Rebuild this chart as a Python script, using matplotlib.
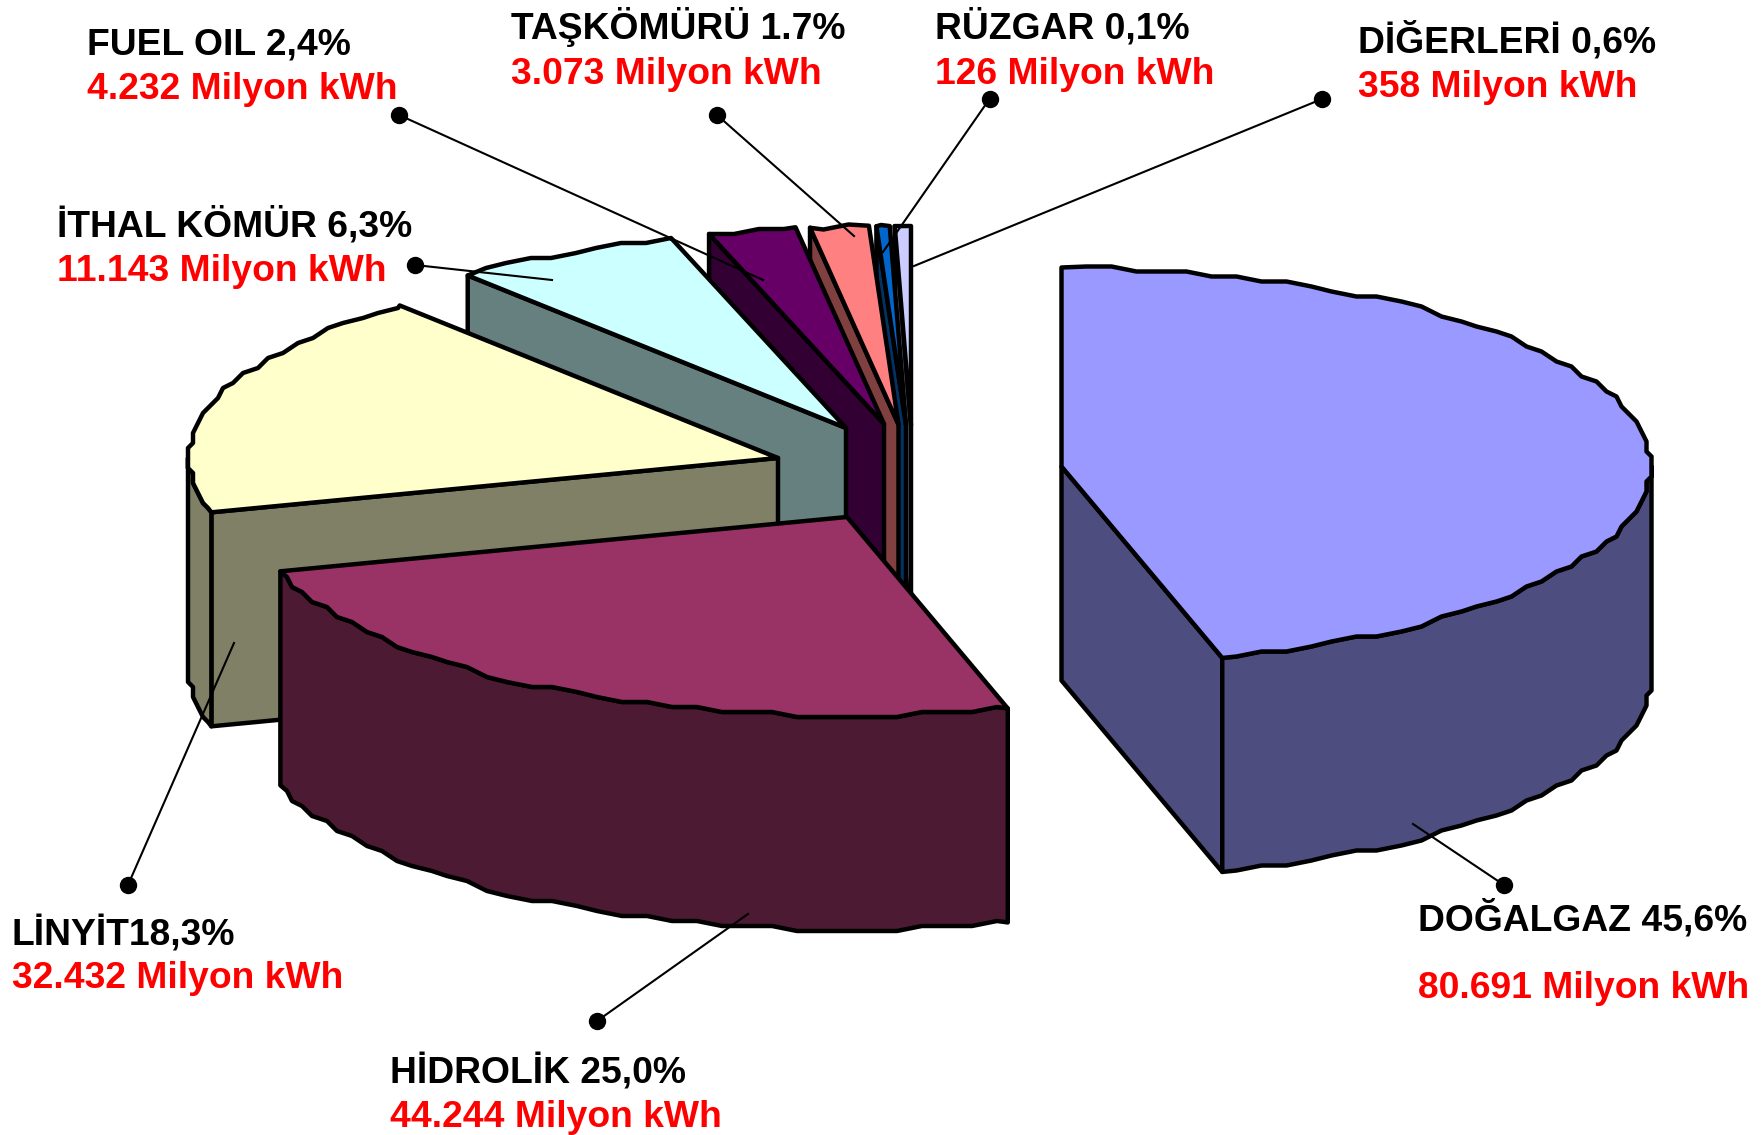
import numpy as np
import matplotlib
matplotlib.use('Agg')
import matplotlib.pyplot as plt

W = 1763
H = 1135

# slices, clockwise from 12 o'clock
names = ['DOĞALGAZ', 'HİDROLİK', 'LİNYİT', 'İTHAL KÖMÜR', 'FUEL OIL', 'TAŞKÖMÜRÜ', 'RÜZGAR', 'DİĞERLERİ']
# shares as drawn; the three small ones are read from the slice widths, not from the labels
shares = [45.6, 25.0, 18.3, 6.3, 2.4, 1.6, 0.36, 0.44]
top_colors = ['#9999FF', '#993366', '#FFFFCC', '#CCFFFF', '#660066', '#FF8080', '#0066CC', '#CCCCFF']
side_colors = ['#4D4D80', '#4D1A33', '#808066', '#668080', '#330033', '#804040', '#003366', '#666680']

# exploded position of each slice's apex
apex_x = [1061.5, 847, 778, 846, 884, 898.5, 906, 911]
apex_y = [466.5, 517, 458, 428, 424, 424.5, 425, 425]

labels_top = ['DOĞALGAZ 45,6%', 'HİDROLİK 25,0%', 'LİNYİT18,3%', 'İTHAL KÖMÜR 6,3%',
              'FUEL OIL 2,4%', 'TAŞKÖMÜRÜ 1.7%', 'RÜZGAR 0,1%', 'DİĞERLERİ 0,6%']
labels_kwh = ['80.691 Milyon kWh', '44.244 Milyon kWh', '32.432 Milyon kWh', '11.143 Milyon kWh',
              '4.232 Milyon kWh', '3.073 Milyon kWh', '126 Milyon kWh', '358 Milyon kWh']
label_x = [1418, 390, 12, 57, 87, 511, 935, 1358]
label_y1 = [931, 1083, 944, 236, 54, 39, 39, 52]
label_y2 = [998, 1127, 988, 281, 99, 84, 84, 97]

dot_x = [1504, 597, 128, 415, 399, 717, 989.5, 1322]
dot_y = [885, 1021, 885, 265, 115, 115, 99, 99]
end_x = [1413, 748, 234, 552, 763, 854, 883, 914]
end_y = [824, 914, 643, 280, 280, 236, 252, 266]

RX = 589
RY = 199
DEPTH = 214
GRID = 5
STEP = 2.5
LW = 3.2

plt.rcParams['font.family'] = ['Liberation Sans', 'DejaVu Sans']


def arc(a1, a2):
    # rough outline like the original: points snapped to a coarse grid,
    # sampled on fixed angles so walls and top faces share their points
    inner = np.arange(np.ceil(a1 / STEP + 1e-6) * STEP, a2 - 1e-6, STEP)
    a = np.r_[a1, inner, a2]
    t = np.radians(a)
    x = RX * np.sin(t)
    y = -RY * np.cos(t)
    x[1:-1] = np.round(x[1:-1] / GRID) * GRID
    y[1:-1] = np.round(y[1:-1] / GRID) * GRID
    return a, x, y


def face(ax, xs, ys, color):
    ax.fill(xs, ys, facecolor=color, edgecolor='black', linewidth=LW, joinstyle='round', zorder=ax.zcount)
    ax.zcount += 1


fig = plt.figure(figsize=(W / 100, H / 100), dpi=100)
ax = fig.add_axes([0, 0, 1, 1])
ax.set_xlim(0, W)
ax.set_ylim(H, 0)
ax.axis('off')
ax.zcount = 1

angles = np.concatenate([[0], np.cumsum(shares)]) / np.sum(shares) * 360

# painter's order: back slices first, Doğalgaz stands apart
for i in range(len(shares) - 1, -1, -1):
    a1, a2 = angles[i], angles[i + 1]
    cx, cy = apex_x[i], apex_y[i]
    a, rel_x, rel_y = arc(a1, a2)
    px = cx + rel_x
    py = cy + rel_y

    # radial wall at the start of the slice
    if 180 < a1 < 360:
        face(ax, [cx, px[0], px[0], cx], [cy, py[0], py[0] + DEPTH, cy + DEPTH], side_colors[i])
    # radial wall at the end of the slice
    if 0 < a2 < 180:
        face(ax, [cx, px[-1], px[-1], cx], [cy, py[-1], py[-1] + DEPTH, cy + DEPTH], side_colors[i])
    # outer wall, lower half of the ellipse only
    low = (a >= 90) & (a <= 270)
    if low.sum() > 1:
        wx = px[low]
        wy = py[low]
        face(ax, np.r_[wx, wx[::-1]], np.r_[wy, wy[::-1] + DEPTH], side_colors[i])
    # top face
    face(ax, np.r_[cx, px], np.r_[cy, py], top_colors[i])

for i in range(len(names)):
    ax.plot([dot_x[i], end_x[i]], [dot_y[i], end_y[i]], color='black', linewidth=1.5, zorder=50)
    ax.plot(dot_x[i], dot_y[i], 'o', color='black', markersize=11.5, zorder=51)
    ax.text(label_x[i], label_y1[i], labels_top[i], color='black', fontsize=26.8, fontweight='bold',
            ha='left', va='baseline', zorder=60)
    ax.text(label_x[i], label_y2[i], labels_kwh[i], color='#FF0000', fontsize=26.8, fontweight='bold',
            ha='left', va='baseline', zorder=60)

fig.savefig('out.png', dpi=100)
